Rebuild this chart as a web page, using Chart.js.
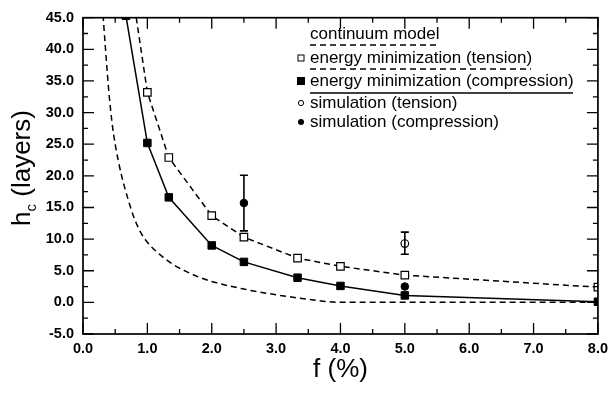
<!DOCTYPE html>
<html>
<head>
<meta charset="utf-8">
<script src="https://cdn.jsdelivr.net/npm/chart.js@4.4.1/dist/chart.umd.min.js"></script>
<style>
  html, body { margin: 0; padding: 0; background: #fff; }
</style>
</head>
<body>
<canvas id="myChart" width="614" height="393"></canvas>
<script>
// values
const fEnergy = [0.667, 1.0, 1.333, 2.0, 2.5, 3.333, 4.0, 5.0, 8.0];
const hcEnergyTension = [56.0, 33.2, 22.9, 13.7, 10.3, 7.0, 5.7, 4.3, 2.4];
const hcEnergyCompression = [45.3, 25.2, 16.6, 9.0, 6.4, 3.9, 2.6, 1.1, 0.1];

const fContinuum = [0.30, 0.35, 0.40, 0.45, 0.50, 0.55, 0.60, 0.70, 0.80, 0.90, 1.00, 1.20, 1.40, 1.60, 1.80, 2.00, 2.50, 3.00, 3.50, 4.00, 5.00, 6.00, 7.00, 8.00];
const hcContinuum = [47, 40, 33.5, 28.5, 25, 22.3, 20, 16.3, 13.2, 11.0, 9.5, 7.5, 6.0, 4.9, 4.0, 3.3, 2.1, 1.2, 0.5, 0.0, 0.0, 0.0, 0.0, 0.0];

const fSimTension = [5.0];
const hcSimTension = [9.3];
const errSimTensionLow = [7.6];
const errSimTensionHigh = [11.1];

const fSimCompression = [2.5, 5.0];
const hcSimCompression = [15.7, 2.5];
const errSimCompressionLow = [11.3, null];
const errSimCompressionHigh = [20.1, null];

const xTickValues = [0, 1, 2, 3, 4, 5, 6, 7, 8];
const yTickValues = [-5, 0, 5, 10, 15, 20, 25, 30, 35, 40, 45];

const legendLabels = [
    'continuum model',
    'energy minimization (tension)',
    'energy minimization (compression)',
    'simulation (tension)',
    'simulation (compression)'
];

const FONT = '"Liberation Sans", Arial, Helvetica, sans-serif';

function toPoints(xs, ys) {
    return xs.map((x, i) => ({ x: x, y: ys[i] }));
}

// box + inward ticks on all four sides
const frameTicks = {
    id: 'frameTicks',
    afterDraw(chart) {
        const { ctx, chartArea: a, scales: { x, y } } = chart;
        ctx.save();
        ctx.strokeStyle = '#000';
        ctx.lineWidth = 1.7;
        ctx.strokeRect(a.left, a.top, a.right - a.left, a.bottom - a.top);
        ctx.lineWidth = 1.3;
        ctx.beginPath();
        for (let i = 0; i <= 16; i++) {
            const px = x.getPixelForValue(i / 2);
            const len = i % 2 === 0 ? 11 : 5;
            ctx.moveTo(px, a.bottom); ctx.lineTo(px, a.bottom - len);
            ctx.moveTo(px, a.top); ctx.lineTo(px, a.top + len);
        }
        for (let i = -2; i <= 18; i++) {
            const py = y.getPixelForValue(i * 2.5);
            const len = i % 2 === 0 ? 11 : 5;
            ctx.moveTo(a.left, py); ctx.lineTo(a.left + len, py);
            ctx.moveTo(a.right, py); ctx.lineTo(a.right - len, py);
        }
        ctx.stroke();

        // axis titles
        ctx.fillStyle = '#000';
        ctx.font = '26px ' + FONT;
        ctx.textAlign = 'center';
        ctx.textBaseline = 'middle';
        ctx.fillText('f (%)', (a.left + a.right) / 2, 370);

        ctx.save();
        ctx.translate(20, 168);
        ctx.rotate(-Math.PI / 2);
        ctx.textAlign = 'left';
        ctx.textBaseline = 'alphabetic';
        const big = '26px ' + FONT, small = '15px ' + FONT;
        ctx.font = big;
        const wH = ctx.measureText('h').width;
        const wRest = ctx.measureText(' (layers)').width;
        ctx.font = small;
        const wC = ctx.measureText('c').width;
        let sx = -(wH + wC + wRest) / 2;
        ctx.font = big;
        ctx.fillText('h', sx, 10);
        ctx.font = small;
        ctx.fillText('c', sx + wH, 16);
        ctx.font = big;
        ctx.fillText(' (layers)', sx + wH + wC, 10);
        ctx.restore();
        ctx.restore();
    }
};

// vertical error bars for the simulation points
const errorBars = {
    id: 'errorBars',
    afterDatasetsDraw(chart) {
        const { ctx, scales: { x, y } } = chart;
        const bars = [
            [fSimTension, errSimTensionLow, errSimTensionHigh],
            [fSimCompression, errSimCompressionLow, errSimCompressionHigh]
        ];
        ctx.save();
        ctx.strokeStyle = '#000';
        ctx.lineWidth = 1.6;
        ctx.beginPath();
        bars.forEach(([fs, lo, hi]) => {
            fs.forEach((f, i) => {
                if (lo[i] == null) return;
                const px = x.getPixelForValue(f);
                const y1 = y.getPixelForValue(lo[i]);
                const y2 = y.getPixelForValue(hi[i]);
                ctx.moveTo(px, y1); ctx.lineTo(px, y2);
                ctx.moveTo(px - 4, y1); ctx.lineTo(px + 4, y1);
                ctx.moveTo(px - 4, y2); ctx.lineTo(px + 4, y2);
            });
        });
        ctx.stroke();
        ctx.restore();
    }
};

// legend with lines drawn under the text like in the figure
const underLegend = {
    id: 'underLegend',
    afterDraw(chart) {
        const ctx = chart.ctx;
        const tx = 310, mx = 301;
        const rows = [34, 58, 81, 103, 122];
        ctx.save();
        ctx.fillStyle = '#000';
        ctx.strokeStyle = '#000';
        ctx.font = '17px ' + FONT;
        ctx.textAlign = 'left';
        ctx.textBaseline = 'middle';
        legendLabels.forEach((t, i) => ctx.fillText(t, tx, rows[i]));

        // underline samples
        ctx.lineWidth = 1.4;
        ctx.setLineDash([6, 4]);
        ctx.beginPath();
        ctx.moveTo(tx, 45); ctx.lineTo(437, 45);
        ctx.moveTo(tx, 69); ctx.lineTo(531, 69);
        ctx.stroke();
        ctx.setLineDash([]);
        ctx.beginPath();
        ctx.moveTo(tx, 93); ctx.lineTo(573, 93);
        ctx.stroke();

        // markers
        ctx.lineWidth = 1;
        ctx.strokeRect(mx - 3, rows[1] - 3, 6, 6);
        ctx.fillRect(mx - 4, rows[2] - 4, 8, 8);
        ctx.beginPath();
        ctx.arc(mx, rows[3], 2.6, 0, Math.PI * 2);
        ctx.stroke();
        ctx.beginPath();
        ctx.arc(mx, rows[4], 3, 0, Math.PI * 2);
        ctx.fill();
        ctx.restore();
    }
};

const ctx = document.getElementById('myChart').getContext('2d');
new Chart(ctx, {
    type: 'scatter',
    data: {
        datasets: [
            {
                label: legendLabels[0],
                data: toPoints(fContinuum, hcContinuum),
                showLine: true,
                borderColor: '#000',
                borderWidth: 1.5,
                borderDash: [6, 4],
                pointRadius: 0,
                cubicInterpolationMode: 'monotone'
            },
            {
                label: legendLabels[1],
                data: toPoints(fEnergy, hcEnergyTension),
                showLine: true,
                borderColor: '#000',
                borderWidth: 1.5,
                borderDash: [6, 4],
                pointStyle: 'rect',
                pointRadius: 5.3,
                pointBackgroundColor: '#fff',
                pointBorderColor: '#000',
                pointBorderWidth: 1.2
            },
            {
                label: legendLabels[2],
                data: toPoints(fEnergy, hcEnergyCompression),
                showLine: true,
                borderColor: '#000',
                borderWidth: 1.5,
                pointStyle: 'rect',
                pointRadius: 5.3,
                pointBackgroundColor: '#000',
                pointBorderColor: '#000',
                pointBorderWidth: 1
            },
            {
                label: legendLabels[3],
                data: toPoints(fSimTension, hcSimTension),
                showLine: false,
                pointStyle: 'circle',
                pointRadius: 3.8,
                pointBackgroundColor: '#fff',
                pointBorderColor: '#000',
                pointBorderWidth: 1.2
            },
            {
                label: legendLabels[4],
                data: toPoints(fSimCompression, hcSimCompression),
                showLine: false,
                pointStyle: 'circle',
                pointRadius: 3.8,
                pointBackgroundColor: '#000',
                pointBorderColor: '#000',
                pointBorderWidth: 1
            }
        ]
    },
    options: {
        responsive: false,
        animation: false,
        layout: { padding: { top: 12, right: 12, left: 0, bottom: 0 } },
        plugins: {
            legend: { display: false },
            tooltip: { enabled: false }
        },
        scales: {
            x: {
                type: 'linear',
                min: 0,
                max: 8,
                grid: { display: false, drawTicks: false },
                border: { display: false },
                afterBuildTicks: (scale) => { scale.ticks = xTickValues.map(v => ({ value: v })); },
                afterFit: (scale) => { scale.height = 59; },
                ticks: {
                    color: '#000',
                    padding: 6,
                    maxRotation: 0,
                    font: { family: FONT, size: 14.5, weight: 'bold' },
                    callback: (v) => Number(v).toFixed(1)
                }
            },
            y: {
                type: 'linear',
                min: -5,
                max: 45,
                grid: { display: false, drawTicks: false },
                border: { display: false },
                afterBuildTicks: (scale) => { scale.ticks = yTickValues.map(v => ({ value: v })); },
                afterFit: (scale) => { scale.width = 83; },
                ticks: {
                    color: '#000',
                    padding: 9,
                    font: { family: FONT, size: 14.5, weight: 'bold' },
                    callback: (v) => Number(v).toFixed(1)
                }
            }
        }
    },
    plugins: [frameTicks, errorBars, underLegend]
});
</script>
</body>
</html>
